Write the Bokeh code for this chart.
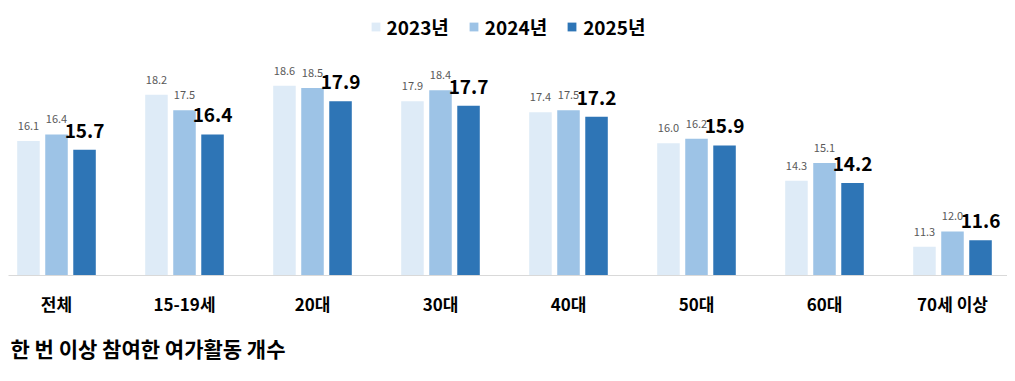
from bokeh.plotting import figure
from bokeh.models import Range1d, FixedTicker, ColumnDataSource, Title, Legend, LegendItem
from bokeh.core.properties import value
from bokeh.embed import file_html
from bokeh.resources import INLINE

categories = ["전체", "15-19세", "20대", "30대", "40대", "50대", "60대", "70세 이상"]
years = ["2023년", "2024년", "2025년"]
v2023 = [16.1, 18.2, 18.6, 17.9, 17.4, 16.0, 14.3, 11.3]
v2024 = [16.4, 17.5, 18.5, 18.4, 17.5, 16.2, 15.1, 12.0]
v2025 = [15.7, 16.4, 17.9, 17.7, 17.2, 15.9, 14.2, 11.6]
caption = "한 번 이상 참여한 여가활동 개수"

colors = ["#DEEBF7", "#9DC3E6", "#2E75B6"]
FONT = "Noto Sans CJK KR"
BASE = 10.0

p = figure(frame_width=999, frame_height=267, output_backend="svg", toolbar_location=None,
           x_range=Range1d(-0.375, -0.375 + 999 / 128), y_range=Range1d(BASE, BASE + 267 / 22.05),
           min_border=0, min_border_left=8, min_border_right=0, min_border_top=8)
p.outline_line_color = None
p.grid.visible = False
p.yaxis.visible = False

offsets = [-0.219, 0.0, 0.219]
series = [v2023, v2024, v2025]
items = []
for k, (vals, off, col, yr) in enumerate(zip(series, offsets, colors, years)):
    xs = [i + off for i in range(len(categories))]
    src = ColumnDataSource(dict(x=xs, top=vals, lab=[f"{v:.1f}" for v in vals]))
    r = p.vbar(x="x", top="top", bottom=BASE, width=0.176, source=src,
               fill_color=col, line_color=None)
    items.append(LegendItem(label=yr, renderers=[r]))
    if k < 2:
        p.text(x="x", y="top", text="lab", source=src, text_align="center", text_baseline="alphabetic",
               y_offset=-15, text_font=value(FONT), text_font_size="11px", text_color="#595959")
    else:
        p.text(x="x", y="top", text="lab", source=src, text_align="center", text_baseline="alphabetic",
               y_offset=-19, text_font=value(FONT), text_font_size="19px", text_font_style="bold",
               text_color="#000000")

legend = Legend(items=items, orientation="horizontal", location="top_center",
                label_text_font=FONT, label_text_font_size="19px", label_text_font_style="bold",
                label_text_color="#000000", glyph_width=11, glyph_height=11, label_standoff=6,
                spacing=19, border_line_color=None, background_fill_alpha=0, margin=5, padding=0)
p.add_layout(legend)

ax = p.xaxis[0]
ax.ticker = FixedTicker(ticks=list(range(len(categories))))
ax.major_label_overrides = {i: c for i, c in enumerate(categories)}
ax.major_tick_line_color = None
ax.minor_tick_line_color = None
ax.axis_line_color = "#D9D9D9"
ax.axis_line_width = 1
ax.major_label_text_font = FONT
ax.major_label_text_font_size = "17px"
ax.major_label_text_font_style = "bold"
ax.major_label_text_color = "#000000"
ax.major_label_standoff = 9

p.add_layout(Title(text=caption, align="left", text_font=FONT, text_font_size="21px",
                   text_font_style="bold", text_color="#000000", offset=2, standoff=24), "below")

open("out.html", "w").write(file_html(p, INLINE))
